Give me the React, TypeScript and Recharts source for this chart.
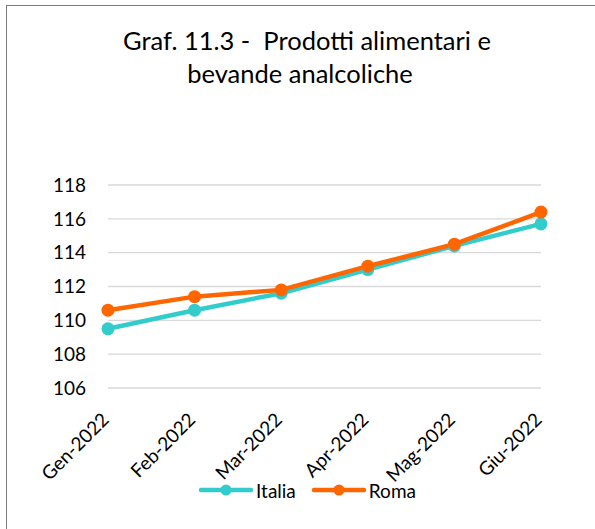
import React from "react";
import { LineChart, Line, XAxis, YAxis, CartesianGrid } from "recharts";

const months = ["Gen-2022", "Feb-2022", "Mar-2022", "Apr-2022", "Mag-2022", "Giu-2022"];
const italia = [109.5, 110.6, 111.6, 113.0, 114.4, 115.7];
const roma = [110.6, 111.4, 111.8, 113.2, 114.5, 116.4];
const yTicks = [106, 108, 110, 112, 114, 116, 118];
const titleLines = ["Graf. 11.3 -  Prodotti alimentari e", "bevande analcoliche"];
const seriesNames = ["Italia", "Roma"];
const seriesColors = ["#33cccc", "#ff6600"];

const data = months.map((m, i) => ({ month: m, Italia: italia[i], Roma: roma[i] }));

const FONT = "Lato, 'Open Sans', sans-serif";

const XTick = (props: any) => {
  const { x, y, payload } = props;
  const tx = x + 2;
  return (
    <text
      x={tx}
      y={y}
      transform={`rotate(-45, ${tx}, ${y})`}
      textAnchor="end"
      fontSize={19}
      fontFamily={FONT}
      fill="#000"
    >
      {payload.value}
    </text>
  );
};

export default function App() {
  return (
    <div style={{ position: "absolute", left: 0, top: 0, width: 595, height: 529, overflow: "hidden", background: "#fff" }}>
      <div
        style={{
          position: "absolute",
          left: 6,
          top: 5,
          width: 700,
          height: 700,
          border: "1.5px solid #7a7a7a",
          boxSizing: "border-box",
        }}
      />
      <svg width={595} height={100} style={{ position: "absolute", left: 0, top: 0 }}>
        <text x={307} y={50} textAnchor="middle" fontSize={25.5} fontFamily={FONT} fill="#000" style={{ whiteSpace: "pre" }}>
          {titleLines[0]}
        </text>
        <text x={300} y={83} textAnchor="middle" fontSize={25.5} fontFamily={FONT} fill="#000" style={{ whiteSpace: "pre" }}>
          {titleLines[1]}
        </text>
      </svg>
      <div style={{ position: "absolute", left: 0, top: 0 }}>
        <LineChart width={595} height={529} data={data} margin={{ top: 185, right: 54, bottom: 111, left: 0 }}>
          <CartesianGrid vertical={false} stroke="#d9d9d9" strokeWidth={1.3} />
          <XAxis
            dataKey="month"
            height={30}
            axisLine={false}
            tickLine={false}
            tickSize={0}
            tickMargin={33}
            interval={0}
            tick={<XTick />}
            padding={{ left: 0, right: 0 }}
          />
          <YAxis
            width={108}
            domain={[106, 118]}
            ticks={yTicks}
            interval={0}
            axisLine={false}
            tickLine={false}
            tickSize={0}
            tickMargin={22}
            tick={{ fontSize: 19, fontFamily: FONT, fill: "#000" }}
          />
          <Line
            dataKey="Italia"
            stroke={seriesColors[0]}
            strokeWidth={4.5}
            dot={{ r: 6.5, fill: seriesColors[0], stroke: seriesColors[0], strokeWidth: 0 }}
            isAnimationActive={false}
          />
          <Line
            dataKey="Roma"
            stroke={seriesColors[1]}
            strokeWidth={4.5}
            dot={{ r: 6.5, fill: seriesColors[1], stroke: seriesColors[1], strokeWidth: 0 }}
            isAnimationActive={false}
          />
        </LineChart>
      </div>
      <div
        style={{
          position: "absolute",
          left: 0,
          top: 478,
          width: 615,
          height: 24,
          display: "flex",
          justifyContent: "center",
          alignItems: "center",
          fontFamily: FONT,
          fontSize: 19,
        }}
      >
        {seriesNames.map((name, i) => (
          <div key={name} style={{ display: "flex", alignItems: "center", marginRight: i === 0 ? 16 : 0 }}>
            <svg width={54} height={14} style={{ display: "block" }}>
              <line x1={2} y1={7} x2={52} y2={7} stroke={seriesColors[i]} strokeWidth={4.5} strokeLinecap="round" />
              <circle cx={27} cy={7} r={5.5} fill={seriesColors[i]} />
            </svg>
            <span style={{ marginLeft: 3, color: "#000" }}>{name}</span>
          </div>
        ))}
      </div>
    </div>
  );
}
